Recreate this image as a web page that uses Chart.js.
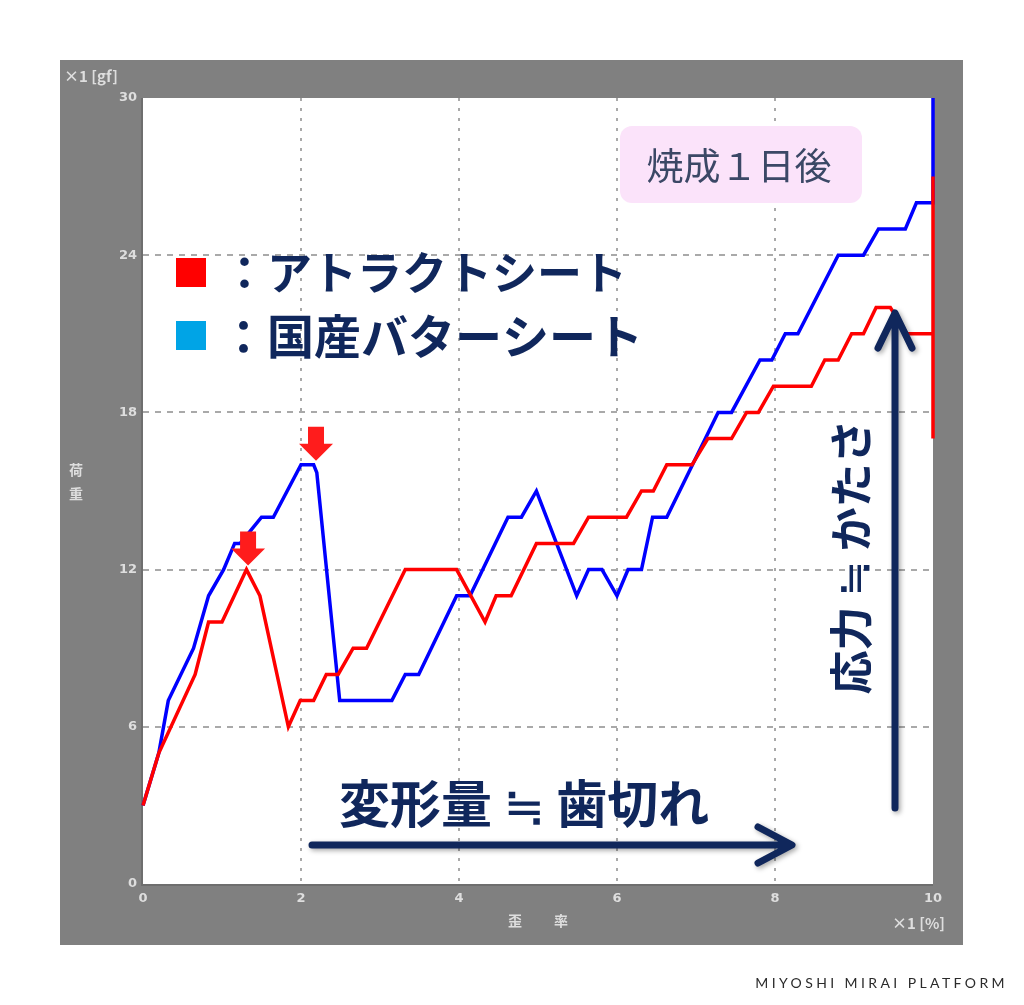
<!DOCTYPE html>
<html lang="ja">
<head>
<meta charset="utf-8">
<title>焼成1日後 荷重-歪率</title>
<script src="https://cdn.jsdelivr.net/npm/chart.js@4.4.1/dist/chart.umd.min.js"></script>
<style>
  html, body { margin: 0; padding: 0; background: #ffffff; }
  #wrap { width: 1024px; height: 1005px; }
</style>
</head>
<body>
<div id="wrap"><canvas id="loadChart" width="1024" height="1005"></canvas></div>
<script>
// ----------------------------------------
// DATA: strain [%] vs load [gf]
// ----------------------------------------
const seriesNames = ['アトラクトシート', '国産バターシート'];

const attractX = [0, 0.2, 0.66, 0.83, 1.0, 1.31, 1.48, 1.84, 1.99, 2.16, 2.32, 2.47, 2.66, 2.83,
  3.32, 3.97, 4.33, 4.47, 4.66, 4.98, 5.45, 5.64, 6.12, 6.31, 6.46, 6.63, 6.95, 7.15, 7.45,
  7.64, 7.79, 7.98, 8.46, 8.63, 8.8, 8.97, 9.12, 9.28, 9.46, 9.67, 9.98, 10, 10, 10];
const attractY = [3, 5, 8, 10, 10, 12, 11, 6, 7, 7, 8, 8, 9, 9,
  12, 12, 10, 11, 11, 13, 13, 14, 14, 15, 15, 16, 16, 17, 17,
  18, 18, 19, 19, 20, 20, 21, 21, 22, 22, 21, 21, 21, 27, 17];

const butterX = [0, 0.2, 0.32, 0.64, 0.83, 1.02, 1.16, 1.23, 1.5, 1.65, 2.0, 2.16, 2.2, 2.49,
  3.15, 3.32, 3.49, 3.97, 4.14, 4.62, 4.79, 4.98, 5.49, 5.64, 5.81, 6.0, 6.14, 6.31, 6.45,
  6.63, 7.28, 7.45, 7.81, 7.96, 8.13, 8.29, 8.8, 9.12, 9.31, 9.65, 9.79, 9.97, 10, 10];
const butterY = [3, 5, 7, 9, 11, 12, 13, 13, 14, 14, 16, 16, 15.7, 7,
  7, 8, 8, 11, 11, 14, 14, 15, 11, 12, 12, 11, 12, 12, 14,
  14, 18, 18, 20, 20, 21, 21, 24, 24, 25, 25, 26, 26, 26, 30];

const xTicks = [0, 2, 4, 6, 8, 10];
const yTicks = [0, 6, 12, 18, 24, 30];

// peaks marked with red arrows
const peakMarks = [
  { x: 1.33, y: 12 },
  { x: 2.19, y: 16 }
];

const NAVY = '#10275c';
const FRAME = '#808080';
const TICK_TEXT = '#dedede';

function toPoints(xs, ys) {
  return xs.map((x, i) => ({ x: x, y: ys[i] }));
}

// ----------------------------------------
// PLUGINS
// ----------------------------------------
const framePlugin = {
  id: 'frame',
  beforeDraw(chart) {
    const { ctx, chartArea: a } = chart;
    ctx.save();
    ctx.fillStyle = '#ffffff';
    ctx.fillRect(0, 0, chart.width, chart.height);
    ctx.fillStyle = FRAME;
    ctx.fillRect(60, 60, 903, 885);
    ctx.fillStyle = '#ffffff';
    ctx.fillRect(a.left, a.top, a.right - a.left, a.bottom - a.top);
    // darker inner edge on left and bottom
    ctx.strokeStyle = '#6e6e6e';
    ctx.lineWidth = 2;
    ctx.beginPath();
    ctx.moveTo(a.left - 1, a.top);
    ctx.lineTo(a.left - 1, a.bottom + 1);
    ctx.lineTo(a.right, a.bottom + 1);
    ctx.stroke();
    ctx.restore();
  }
};

function downArrow(ctx, tipX, tipY) {
  ctx.beginPath();
  ctx.moveTo(tipX - 8, tipY - 34);
  ctx.lineTo(tipX + 8, tipY - 34);
  ctx.lineTo(tipX + 8, tipY - 17);
  ctx.lineTo(tipX + 17, tipY - 17);
  ctx.lineTo(tipX, tipY);
  ctx.lineTo(tipX - 17, tipY - 17);
  ctx.lineTo(tipX - 8, tipY - 17);
  ctx.closePath();
  ctx.fill();
}

const annotationPlugin = {
  id: 'annotations',
  afterDraw(chart) {
    const { ctx } = chart;
    const xs = chart.scales.x, ys = chart.scales.y;
    ctx.save();

    // axis captions on the grey frame
    ctx.fillStyle = TICK_TEXT;
    ctx.font = 'bold 15px "Noto Sans CJK JP", "DejaVu Sans"';
    ctx.textBaseline = 'middle';
    ctx.textAlign = 'left';
    ctx.fillText('×1 [gf]', 64, 76);
    ctx.fillText('×1 [%]', 892, 923);
    ctx.font = 'bold 14px "Noto Sans CJK JP", "DejaVu Sans"';
    ctx.textAlign = 'center';
    ctx.fillText('荷', 76, 470);
    ctx.fillText('重', 76, 494);
    ctx.fillText('歪', 515, 921);
    ctx.fillText('率', 561, 921);

    // red markers above the peaks
    ctx.fillStyle = '#ff1c1c';
    peakMarks.forEach(p => {
      downArrow(ctx, xs.getPixelForValue(p.x), ys.getPixelForValue(p.y) - 4);
    });

    // label box
    ctx.fillStyle = '#fbe3fa';
    ctx.beginPath();
    ctx.roundRect(620, 126, 242, 77, 12);
    ctx.fill();
    ctx.fillStyle = '#3b4866';
    ctx.font = '37px "Noto Sans CJK JP"';
    ctx.textAlign = 'center';
    ctx.fillText('焼成１日後', 739, 166);

    // legend
    ctx.fillStyle = '#ff0000';
    ctx.fillRect(176, 258, 30, 29);
    ctx.fillStyle = '#00a4e6';
    ctx.fillRect(176, 321, 30, 29);
    ctx.fillStyle = NAVY;
    ctx.textAlign = 'left';
    ctx.font = 'bold 45px "Noto Sans CJK JP"';
    ctx.fillText('：' + seriesNames[0], 222, 273);
    ctx.font = 'bold 47px "Noto Sans CJK JP"';
    ctx.fillText('：' + seriesNames[1], 220, 336);

    // horizontal arrow
    ctx.font = 'bold 51px "Noto Sans CJK JP"';
    ctx.fillText('変形量 ≒ 歯切れ', 339, 804);

    ctx.shadowColor = 'rgba(0,0,0,0.35)';
    ctx.shadowBlur = 5;
    ctx.shadowOffsetX = 2;
    ctx.shadowOffsetY = 2;
    ctx.strokeStyle = NAVY;
    ctx.lineWidth = 7;
    ctx.lineCap = 'round';
    ctx.lineJoin = 'round';
    ctx.beginPath();
    ctx.moveTo(312, 845);
    ctx.lineTo(790, 845);
    ctx.moveTo(758, 827);
    ctx.lineTo(792, 845);
    ctx.lineTo(758, 863);
    ctx.stroke();

    // vertical arrow
    ctx.beginPath();
    ctx.moveTo(895, 808);
    ctx.lineTo(895, 315);
    ctx.moveTo(878, 348);
    ctx.lineTo(895, 313);
    ctx.lineTo(912, 348);
    ctx.stroke();
    ctx.shadowColor = 'rgba(0,0,0,0)';

    ctx.save();
    ctx.translate(851, 557);
    ctx.rotate(-Math.PI / 2);
    ctx.fillStyle = NAVY;
    ctx.font = 'bold 44px "Noto Sans CJK JP"';
    ctx.textAlign = 'center';
    ctx.fillText('応力 ≒ かたさ', 0, 0);
    ctx.restore();

    // footer mark
    ctx.fillStyle = '#2b2b2b';
    ctx.font = '14px Lato, "DejaVu Sans"';
    ctx.textAlign = 'right';
    ctx.letterSpacing = '3.4px';
    ctx.fillText('MIYOSHI MIRAI PLATFORM', 1008, 983);
    ctx.restore();
  }
};

// ----------------------------------------
// CHART
// ----------------------------------------
function innerGrid(ctx) {
  const v = ctx.tick ? ctx.tick.value : null;
  const s = ctx.scale;
  return (v === s.min || v === s.max) ? 'rgba(0,0,0,0)' : '#a9a9a9';
}

const tickFont = { family: '"DejaVu Sans"', size: 13, weight: 'bold' };

new Chart(document.getElementById('loadChart'), {
  type: 'line',
  data: {
    datasets: [
      {
        label: seriesNames[0],
        data: toPoints(attractX, attractY),
        borderColor: '#ff0000',
        borderWidth: 3.5,
        pointRadius: 0,
        tension: 0,
        clip: 6
      },
      {
        label: seriesNames[1],
        data: toPoints(butterX, butterY),
        borderColor: '#0000ff',
        borderWidth: 3.5,
        pointRadius: 0,
        tension: 0,
        clip: 6
      }
    ]
  },
  options: {
    responsive: false,
    animation: false,
    devicePixelRatio: 1,
    layout: { padding: { left: 60, top: 98, right: 91, bottom: 81 } },
    plugins: {
      legend: { display: false },
      tooltip: { enabled: false }
    },
    scales: {
      x: {
        type: 'linear',
        min: 0,
        max: 10,
        afterBuildTicks: s => { s.ticks = xTicks.map(v => ({ value: v })); },
        afterFit: s => { s.height = 40; },
        ticks: { color: TICK_TEXT, font: tickFont, padding: 7, maxRotation: 0 },
        grid: { color: innerGrid, lineWidth: 2, drawTicks: false },
        border: { display: false, dash: [3, 7] }
      },
      y: {
        type: 'linear',
        min: 0,
        max: 30,
        afterBuildTicks: s => { s.ticks = yTicks.map(v => ({ value: v })); },
        afterFit: s => { s.width = 83; },
        ticks: { color: TICK_TEXT, font: tickFont, padding: 6 },
        grid: { color: innerGrid, lineWidth: 2, drawTicks: false },
        border: { display: false, dash: [6, 6] }
      }
    }
  },
  plugins: [framePlugin, annotationPlugin]
});
</script>
</body>
</html>
